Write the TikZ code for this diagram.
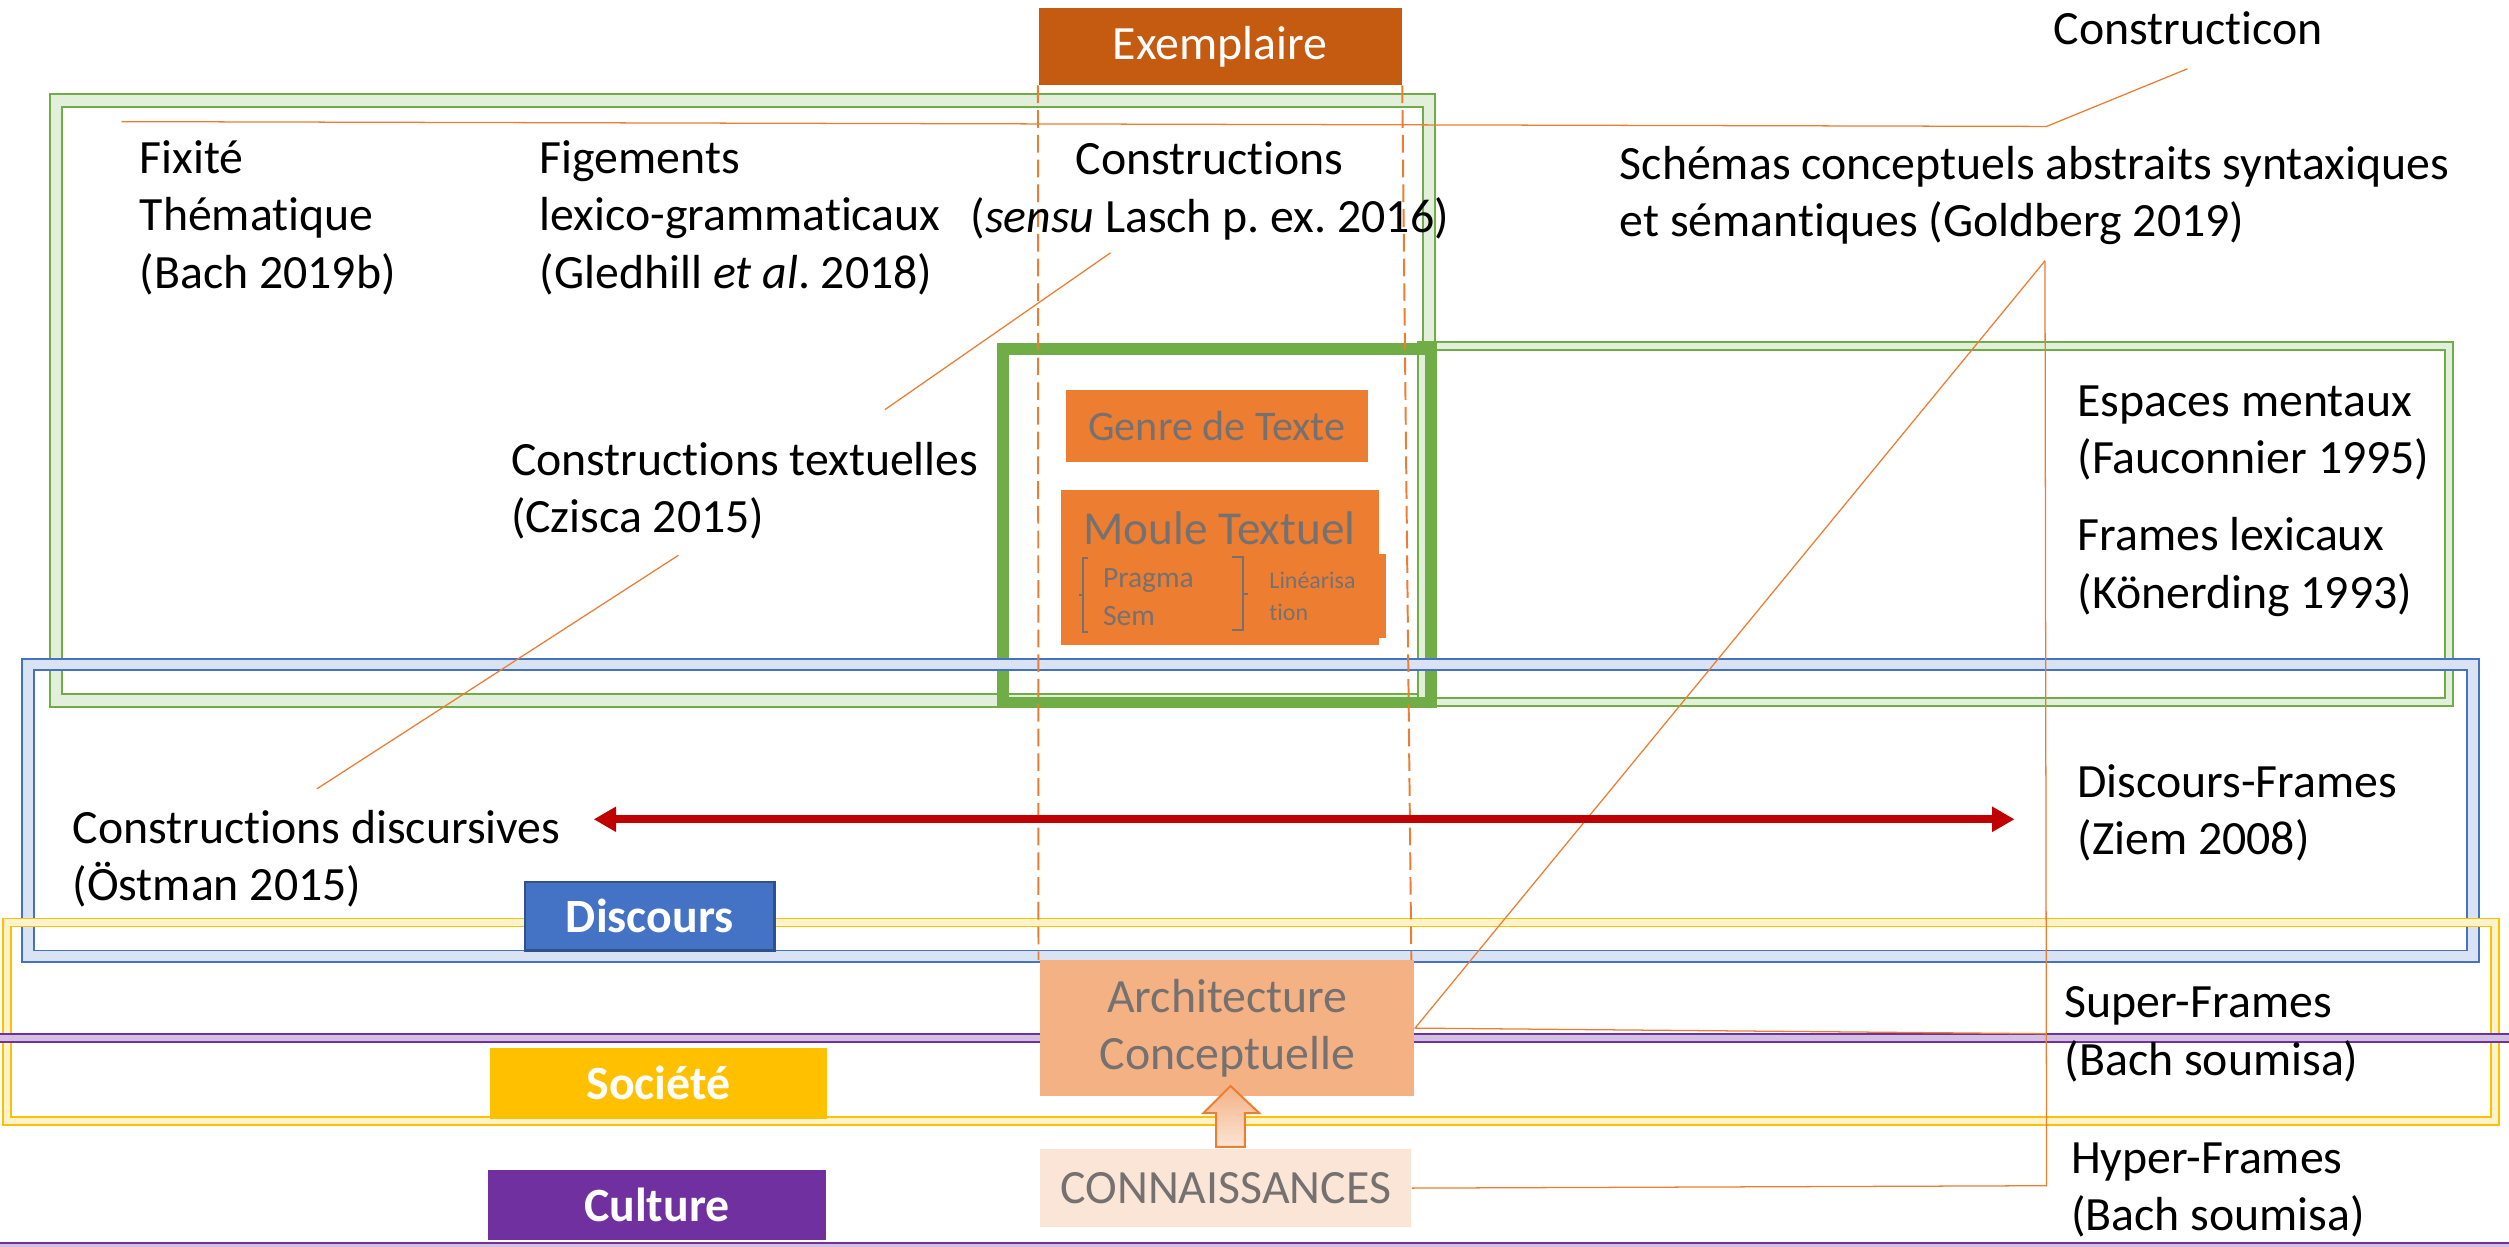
\documentclass[tikz,border=0pt]{standalone}
\usepackage{fontspec}
\setmainfont{Carlito}[Ligatures=NoCommon]
\usepackage{tikz}
\usetikzlibrary{arrows.meta}
\usetikzlibrary{positioning}
\frenchspacing

\definecolor{frgreen}{HTML}{70AD47}
\definecolor{frblue}{HTML}{4472C4}
\definecolor{frblueedge}{HTML}{2F528F}
\definecolor{fryellow}{HTML}{FFC000}
\definecolor{frpurple}{HTML}{7030A0}
\definecolor{orng}{HTML}{ED7D31}
\definecolor{darkorng}{HTML}{C55A11}
\definecolor{lightorng}{HTML}{F4B183}
\definecolor{paleorng}{HTML}{FBE5D6}
\definecolor{txtgray}{HTML}{767171}
\definecolor{darkred}{HTML}{C00000}

\tikzset{
  lbl/.style={inner sep=0pt, anchor=base west, align=left, font=\fontsize{17}{20.4}\selectfont},
  callout/.style={orng, line width=0.45pt},
  tagbox/.style={inner sep=0pt, text=white, font=\fontsize{17}{20}\selectfont\bfseries},
  orngbox/.style={inner sep=0pt, text=txtgray, align=center},
  frameline/.style={line width=0.7pt}
}

\begin{document}
\begin{tikzpicture}[x=0.02cm, y=-0.02cm]
        	\useasboundingbox (0,0) rectangle (1568,779);
        	% green frames
        	\foreach \col/\x/\y/\X/\Y/\g in {frgreen/31/59/897/442/8, frgreen/886/214/1533/441/5} {
        		\fill[\col!20, even odd rule] (\x,\y) rectangle (\X,\Y) (\x+\g,\y+\g) rectangle (\X-\g,\Y-\g);
        		\draw[\col, frameline] (\x,\y) rectangle (\X,\Y) (\x+\g,\y+\g) rectangle (\X-\g,\Y-\g);
        	}
        	\draw[frgreen, line width=4.25pt] (627,218) rectangle (894,439);
        	% blue and yellow frames
        	\foreach \col/\x/\y/\X/\Y/\g in {frblue/14/412/1549/601/7, fryellow/2/574/1562/703/5} {
        		\fill[\col!20, even odd rule] (\x,\y) rectangle (\X,\Y) (\x+\g,\y+\g) rectangle (\X-\g,\Y-\g);
        		\draw[\col, frameline] (\x,\y) rectangle (\X,\Y) (\x+\g,\y+\g) rectangle (\X-\g,\Y-\g);
        	}
        	% purple bands
        	\fill[frpurple!30] (0,646) rectangle (1568,651);
        	\draw[frpurple, frameline] (0,646) -- (1568,646) (0,651) -- (1568,651);
        	\fill[frpurple!30] (0,777) rectangle (1568,779);
        	\draw[frpurple, frameline] (0,777) -- (1568,777);
        	% boxes
        	\node[fill=darkorng, inner sep=0pt, minimum width=4.54cm, minimum height=0.96cm, text=white, font=\fontsize{17}{19}\selectfont] (exemplaire) at (762.5,29) {Exemplaire};
        	\node[fill=lightorng, orngbox, minimum width=4.68cm, minimum height=1.7cm, font=\fontsize{17}{20.4}\selectfont] (archi) at (767,642.5) {Architecture\\Conceptuelle};
        	\node[fill=paleorng, orngbox, minimum width=4.64cm, minimum height=0.98cm, font=\fontsize{17}{19}\selectfont] (conn) at (766,742.5) {CONNAISSANCES};
        	% callouts
        	\coordinate (cxnL) at (76,76);
        	\coordinate (cxnK) at (1279,79);
        	\coordinate (cxnT) at (1367,43);
        	\coordinate (lasch) at (694,158);
        	\coordinate (textA) at (553,256);
        	\coordinate (textB) at (424,347);
        	\coordinate (discA) at (198,493);
        	\coordinate (gold) at (1278,163);
        	\coordinate (goldK) at (1279,741);
        	\coordinate (superK) at (1279,646);
        	\draw[callout] (cxnL) -- (cxnK) -- (cxnT);
        	\draw[callout] (lasch) -- (textA);
        	\draw[callout] (textB) -- (discA);
        	\draw[callout] (gold) -- (archi.east) -- (superK);
        	\draw[callout] (gold) -- (goldK) -- (conn.east);
        	% dashed lines
        	\draw[orng, line width=0.7pt, dash pattern=on 6.3pt off 2.5pt] (exemplaire.south west) -- (649,600);
        	\draw[orng, line width=0.7pt, dash pattern=on 6.3pt off 2.5pt] (exemplaire.south east) -- (882,600);
        	% text mould
        	\node[fill=orng, orngbox, minimum width=3.78cm, minimum height=0.9cm, font=\fontsize{15}{17}\selectfont] (genre) at (760.5,266.5) {Genre de Texte};
        	\node[fill=orng, inner sep=0pt, minimum width=3.98cm, minimum height=1.94cm] (moule) at (762.5,354.5) {};
        	\fill[orng] (862,346) rectangle (866,399);
        	\node[inner sep=0pt, anchor=base, text=txtgray, font=\fontsize{16.8}{19}\selectfont] (mouletxt) at (762,340) {Moule Textuel};
        	\draw[txtgray, line width=0.7pt] (680,349) -- (677,349) -- (677,395) -- (680,395) (677,372) -- (674,372);
        	\draw[txtgray, line width=0.7pt] (770,348) -- (777,348) -- (777,394) -- (770,394) (777,371) -- (780,371);
        	\node[lbl, text=txtgray, font=\fontsize{10.5}{13.6}\selectfont] (pragma) at (689,391) {Pragma\\Sem};
        	\node[lbl, text=txtgray, font=\fontsize{8.5}{11.3}\selectfont] (linea) at (793,387.5) {Linéarisa\\tion};
        	% knowledge arrow
        	\begin{scope}[shift={(conn.north)}]
        		\filldraw[draw=orng, line width=0.7pt, top color=lightorng, bottom color=paleorng] (-6,-1) -- (-6,-22) -- (-14,-22) -- (3,-39) -- (21,-22) -- (12,-22) -- (12,-1) -- cycle;
        	\end{scope}
        	% red arrow
        	\coordinate (redL) at (371,512);
        	\coordinate (redR) at (1259,512);
        	\draw[darkred, line width=2.8pt, {Triangle[length=8pt,width=8.5pt]}-{Triangle[length=8pt,width=8.5pt]}] (redL) -- (redR);
        	% level tags
        	\node[tagbox, fill=frblue, draw=frblueedge, line width=0.8pt, minimum width=3.12cm, minimum height=0.86cm] (discours) at (406,572.5) {Discours};
        	\node[tagbox, fill=fryellow, minimum width=4.22cm, minimum height=0.88cm] (societe) at (411.5,677) {Société};
        	\node[tagbox, fill=frpurple, minimum width=4.22cm, minimum height=0.88cm] (culture) at (410.5,753) {Culture};
        	% labels (base = last line)
        	\node[lbl] (fixite) at (87,180) {Fixité\\Thématique\\(Bach 2019b)};
        	\node[lbl] (figements) at (337,180) {Figements\\lexico-grammaticaux\\(Gledhill \textit{et al}. 2018)};
        	\node[lbl, anchor=base, align=center] (constr) at (756,145) {Constructions\\(\textit{sensu} Lasch p. ex. 2016)};
        	\node[lbl] (constrtext) at (319,333) {Constructions textuelles\\(Czisca 2015)};
        	\node[lbl] (constrdisc) at (45,563) {Constructions discursives\\(Östman 2015)};
        	\node[lbl] (constructicon) at (1283,28) {Constructicon};
        	\node[lbl] (goldberg) at (1012,148) {Schémas conceptuels abstraits syntaxiques\\et sémantiques (Goldberg 2019)};
        	\node[lbl] (espaces) at (1298,296) {Espaces mentaux\\(Fauconnier 1995)};
        	\node[lbl] (frameslex) at (1298,380) {Frames lexicaux\\(Könerding 1993)};
        	\node[lbl] (discframes) at (1298,534) {Discours-Frames\\(Ziem 2008)};
        	\node[lbl] (superframes) at (1290,672) {Super-Frames\\(Bach soumisa)};
        	\node[lbl] (hyperframes) at (1294,769) {Hyper-Frames\\(Bach soumisa)};
        \end{tikzpicture}
\end{document}
